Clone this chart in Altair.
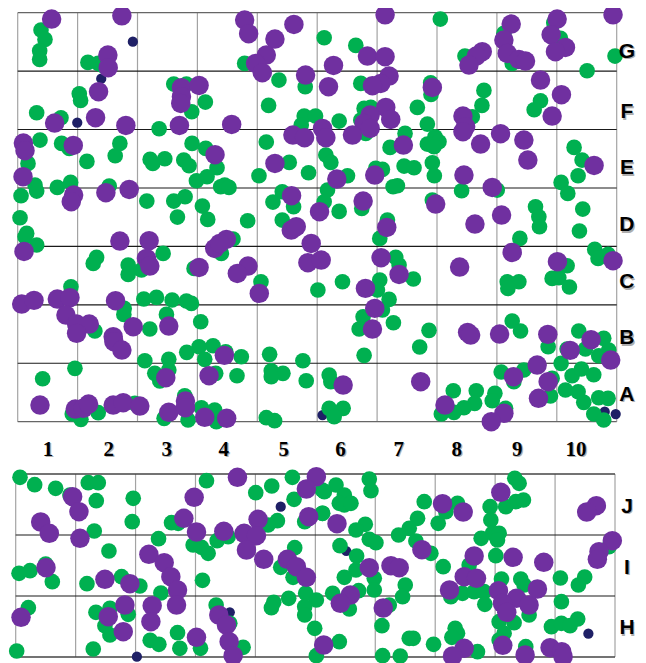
import altair as alt
import pandas as pd

# Point positions, one list per quadrant read
green_t1 = [(123,90),(135,118),(119,152),(119,178),(264,187),(295,190),(310,197),(238,281),(242,301),(110,338),(183,353),(522,252),(560,252),(617,306),(576,335),(478,386),(807,316),(838,240),(917,260),(914,348),(948,348),(905,375),(735,190),
(120,420),(185,430),(208,445),(84,490),(261,484),(360,430),(346,467),(451,478),(459,490),(495,476),(552,480),(568,497),(577,430),(618,445),(652,503),(622,530),(590,542),(663,560),(675,555),(688,562),(778,527),(800,426),(869,487),(927,518),
(105,555),(110,573),(63,587),(172,562),(212,547),(328,558),(441,603),(522,603),(556,590),(608,618),(533,651),(624,658),(744,662),(848,575),(820,606),(882,620),(848,660),(60,653)]
purple_t1 = [(155,57),(366,47),(324,165),(325,203),(735,60),(747,101),(826,117),(883,73),(800,165),(768,190),(788,218),(918,225),(545,263),(598,256),(545,290),(543,310),(296,275),(287,353),(164,369),(378,376),(539,376),(696,373),(70,429),(75,452),(220,436),(646,464),(69,530),(826,490),(880,405),(915,413),(221,585),(214,605),(318,578),(388,568),(876,587),(960,635)]
navy_t1 = [(399,125),(304,236),(232,368)]

green_t2 = [(5,113),(100,136),(354,57),(428,168),(695,68),(715,115),(879,168),(795,212),(545,100),(570,190),(115,250),(325,248),(326,283),(485,271),(479,316),(655,302),(636,329),(285,322),(125,325),(145,322),(115,360),(50,363),(315,372),(450,350),(248,400),(130,400),(203,442),(338,410),(315,432),(350,425),(335,440),(756,442),(780,480),(768,527),(717,547),(737,580),(330,488),(336,527),(245,498),(275,503),(225,557),(212,560),(160,505),(180,508),(75,527),(418,572),(525,570),(15,570),(5,605),(50,634),(118,625),(330,600),(640,620),(650,650),(782,627),(195,660),(10,465),(25,487)]
purple_t2 = [(188,44),(873,44),(567,72),(705,57),(687,104),(545,120),(555,160),(590,178),(610,183),(730,142),(700,155),(480,155),(462,168),(440,195),(135,168),(188,170),(33,196),(18,260),(200,228),(175,250),(150,257),(330,262),(655,240),(718,284),(690,348),(422,348),(430,380),(422,395),(190,322),(205,358),(143,345),(125,370),(143,385),(90,405),(0,385),(10,413),(243,435),(475,432),(535,401),(605,420),(617,480),(816,496),(425,525),(510,562),(157,525),(43,537),(122,603),(340,612),(538,645),(458,672)]

green_t3 = [(80,25),(75,35),(110,60),(290,97),(280,115),(385,120),(385,148),(425,135),(490,85),(700,42),(665,85),(583,130),(784,170),(955,195),(213,185),(432,222),(470,217),(517,225),(560,228),(575,235),(373,250),(372,268),(500,268),(603,290),(450,312),(285,318),(598,365),(561,382),(640,362),(678,380),(725,395),(615,403),(507,403),(435,407),(810,388),(910,407),(815,437),(850,445),(815,455),(920,467),(712,452),(648,445),(465,445),(507,435),(480,468),(225,430),(128,461),(295,563),(217,567),(243,583),(405,535),(555,512),(493,580),(565,585),(605,548),(645,555),(650,590),(800,578),(825,587)]
purple_t3 = [(72,79),(360,48),(448,47),(440,100),(450,123),(598,127),(645,70),(680,43),(660,55),(935,55),(875,15),(890,5),(745,123),(713,145),(925,113),(965,105),(779,205),(65,237),(102,226),(172,222),(210,218),(198,270),(230,297),(268,297),(230,325),(347,227),(400,305),(507,303),(340,335),(342,350),(366,375),(674,391),(628,452),(498,458),(120,540),(226,552),(250,550),(266,537),(340,540),(370,533),(420,543),(507,562),(557,528),(557,548),(615,577),(681,580)]

green_t4 = [(20,450),(25,470),(20,550),(62,550),(35,575),(172,40),(220,97),(230,120),(172,165),(165,195),(273,162),(60,170),(200,223),(180,255),(122,275),(110,312),(213,293),(320,316),(292,366),(125,391),(593,40),(652,5),(772,18),(818,73),(828,100),(858,88),(735,122),(690,160),(710,158),(742,186),(555,170),(590,170),(557,190),(570,288),(595,318),(770,318),(678,365),(735,372),(790,372),(845,340),(860,375),(830,392),(717,415),(537,441),(605,435),(575,470),(690,460),(750,452),(778,432),(815,449),(730,495),(768,500),(785,532),(685,513),(830,518),(858,520),(815,567),(845,585),(393,497),(462,497),(457,535),(425,548),(395,562),(357,567),(518,505),(510,527),(550,550)]
purple_t4 = [(193,7),(176,98),(412,126),(570,82),(706,110),(873,107),(230,148),(129,190),(157,250),(150,312),(436,322),(445,330),(532,327),(677,328),(807,344),(744,376),(866,405),(645,420),(574,455),(678,470),(649,520),(295,470),(62,480),(368,540),(545,565),(507,590)]
navy_t4 = [(848,560),(881,567),(0,570)]

green_b1 = [(60,52),(104,74),(167,85),(210,105),(265,68),(295,68),(289,122),(400,115),(397,185),(515,188),(535,190),(620,62),(768,98),(816,78),(878,52),(883,118),(833,182),(805,195),(915,185),(968,90),(968,160),(283,213),(476,236),(327,273),(580,255),(605,262),(625,280),(652,242),(685,230),(885,263),(843,322),(880,352),(137,312),(90,332),(57,340),(157,365),(261,371),(365,350),(420,378),(608,361),(483,399),(918,400),(950,420),(867,415),(822,427),(815,443),(915,440),(915,465),(85,443),(288,457),(330,445),(385,463),(315,497),(330,525),(649,435),(690,490),(533,518),(540,565),(451,541),(477,553),(602,565),(730,562),(50,573),(280,567),(945,505),(950,587)]
purple_b1 = [(713,52),(950,50),(920,87),(218,110),(237,155),(583,112),(122,186),(148,220),(240,235),(552,175),(590,216),(672,214),(775,178),(927,170),(733,220),(770,227),(740,270),(792,298),(447,283),(493,308),(513,350),(533,390),(530,435),(457,437),(453,485),(375,435),(325,470),(370,515),(138,323),(315,358),(390,371),(863,298),(890,320),(920,352),(63,472),(590,532),(657,465),(680,495),(688,545),(700,587),(972,555)]
navy_b1 = [(843,140),(411,590),(690,457)]

green_b2 = [(140,57),(145,92),(40,75),(5,95),(65,105),(50,130),(65,135),(85,130),(0,160),(305,125),(405,130),(370,155),(347,190),(285,175),(260,205),(228,225),(128,193),(100,210),(140,238),(160,248),(280,243),(325,280),(52,257),(102,288),(100,330),(65,352),(155,355),(155,390),(108,392),(30,400),(248,375),(240,410),(362,320),(200,435),(80,447),(178,497),(50,545),(260,535),(272,535),(333,553),(398,505),(405,520),(388,532),(465,575),(180,587),(233,588),(503,140),(505,180),(550,140),(580,125),(603,120),(577,55),(590,70),(510,220),(530,220),(476,235),(525,240),(520,287),(440,315),(537,357),(595,357),(605,375),(714,354),(787,351),(768,375),(717,425),(385,410),(420,400),(455,395),(485,395),(487,433),(620,465),(575,488),(530,485),(545,520),(530,540),(687,500),(717,490),(743,497),(766,477),(610,560),(860,260)]
purple_b2 = [(43,191),(140,323),(205,317),(230,323),(298,269),(360,131),(422,156),(535,97),(822,137),(793,156),(870,242),(830,275),(825,298),(455,288),(572,292),(664,307),(425,350),(462,355),(381,390),(528,392),(582,415),(620,435),(645,387),(540,430),(553,457),(83,405),(53,430),(182,444),(425,565),(390,588),(541,556),(608,585),(683,563),(718,575),(722,590)]
navy_b2 = [(71,273),(798,521)]

col_labels = ["1", "2", "3", "4", "5", "6", "7", "8", "9", "10"]
col_label_pos = [0.505, 1.52, 2.49, 3.44, 4.44, 5.39, 6.36, 7.33, 8.34, 9.32]
top_rows = ["A", "B", "C", "D", "E", "F", "G"]
top_row_pos = [0.457, 1.43, 2.39, 3.36, 4.34, 5.30, 6.33]
bottom_rows = ["H", "I", "J"]
bottom_row_pos = [0.475, 1.46, 2.46]
bottom_row_x = [10.2, 10.2, 10.2]


def top_frame(rows):
    return pd.DataFrame(
        [{"col": (x + ox - 53) / 180, "row": (1265 - (y + oy)) / 175.3} for x, y, ox, oy in rows]
    )


def bottom_frame(rows):
    return pd.DataFrame(
        [{"col": (x + ox - 47) / 180, "row": (591 - y) / 183} for x, y, ox in rows]
    )


def tag_top(tile, ox, oy):
    return [(x, y, ox, oy) for x, y in tile]


def tag_bottom(tile, ox):
    return [(x, y, ox) for x, y in tile]


green_top = top_frame(tag_top(green_t1, 0, 0) + tag_top(green_t2, 969, 0) + tag_top(green_t3, 0, 675) + tag_top(green_t4, 969, 675))
purple_top = top_frame(tag_top(purple_t1, 0, 0) + tag_top(purple_t2, 969, 0) + tag_top(purple_t3, 0, 675) + tag_top(purple_t4, 969, 675))
navy_top = top_frame(tag_top(navy_t1, 0, 0) + tag_top(navy_t4, 969, 675))
green_bottom = bottom_frame(tag_bottom(green_b1, 0) + tag_bottom(green_b2, 969))
purple_bottom = bottom_frame(tag_bottom(purple_b1, 0) + tag_bottom(purple_b2, 969))
navy_bottom = bottom_frame(tag_bottom(navy_b1, 0) + tag_bottom(navy_b2, 969))

XT = alt.Scale(domain=[0, 10], range=[9.7, 608.7], nice=False, zero=False)
YT = alt.Scale(domain=[0, 7], range=[413.7, 4.7], nice=False, zero=False)
XB = alt.Scale(domain=[0, 10], range=[7.7, 607], nice=False, zero=False)
YB = alt.Scale(domain=[0, 3], range=[649, 466], nice=False, zero=False)


def points(df, color, size, xs, ys):
    return alt.Chart(df).mark_circle(color=color, size=size, opacity=1).encode(
        x=alt.X("col:Q", scale=xs, axis=None),
        y=alt.Y("row:Q", scale=ys, axis=None),
    )


def vlines(nrows, xs, ys):
    df = pd.DataFrame({"col": list(range(11)), "y0": [0] * 11, "y1": [nrows] * 11})
    return alt.Chart(df).mark_rule(color="#a3a3a3", strokeWidth=1.2).encode(
        x=alt.X("col:Q", scale=xs, axis=None),
        y=alt.Y("y0:Q", scale=ys, axis=None),
        y2="y1:Q",
    )


def hlines(values, color, width, xs, ys):
    df = pd.DataFrame({"row": values, "x0": [0] * len(values), "x1": [10] * len(values)})
    return alt.Chart(df).mark_rule(color=color, strokeWidth=width).encode(
        y=alt.Y("row:Q", scale=ys, axis=None),
        x=alt.X("x0:Q", scale=xs, axis=None),
        x2="x1:Q",
    )


def labels(names, xvals, yvals, font, xs, ys):
    df = pd.DataFrame({"t": names, "col": xvals, "row": yvals})
    enc = dict(
        x=alt.X("col:Q", scale=xs, axis=None),
        y=alt.Y("row:Q", scale=ys, axis=None),
        text="t:N",
    )
    shadow = alt.Chart(df).mark_text(
        font=font, fontSize=21, fontWeight="bold", color="#8c8c8c", opacity=0.7,
        align="center", baseline="middle", dx=1.2, dy=1.5,
    ).encode(**enc)
    front = alt.Chart(df).mark_text(
        font=font, fontSize=21, fontWeight="bold", color="#000000",
        align="center", baseline="middle",
    ).encode(**enc)
    return [shadow, front]


layers = [
    vlines(7, XT, YT),
    hlines([1, 2, 3, 4, 5, 6], "#1a1a1a", 1.1, XT, YT),
    hlines([0, 7], "#666666", 1.3, XT, YT),
    points(navy_top, "#1F2066", 105, XT, YT),
    points(green_top, "#00B050", 245, XT, YT),
    points(purple_top, "#7030A0", 380, XT, YT),
    vlines(3, XB, YB),
    hlines([1, 2], "#1a1a1a", 1.1, XB, YB),
    hlines([0, 3], "#444444", 1.3, XB, YB),
    points(navy_bottom, "#1F2066", 105, XB, YB),
    points(green_bottom, "#00B050", 245, XB, YB),
    points(purple_bottom, "#7030A0", 380, XB, YB),
]
layers += labels(col_labels, col_label_pos, [-0.484] * 10, "Liberation Serif", XT, YT)
layers += labels(top_rows, [10.17] * 7, top_row_pos, "Liberation Sans", XT, YT)
layers += labels(bottom_rows, bottom_row_x, bottom_row_pos, "Liberation Sans", XB, YB)

chart = (
    alt.layer(*layers)
    .resolve_scale(x="independent", y="independent")
    .properties(width=630, height=655, padding=0, autosize=alt.AutoSizeParams(type="none"))
    .configure_view(stroke=None)
)

chart.save("out.html", embed_options={"renderer": "svg", "actions": False})
